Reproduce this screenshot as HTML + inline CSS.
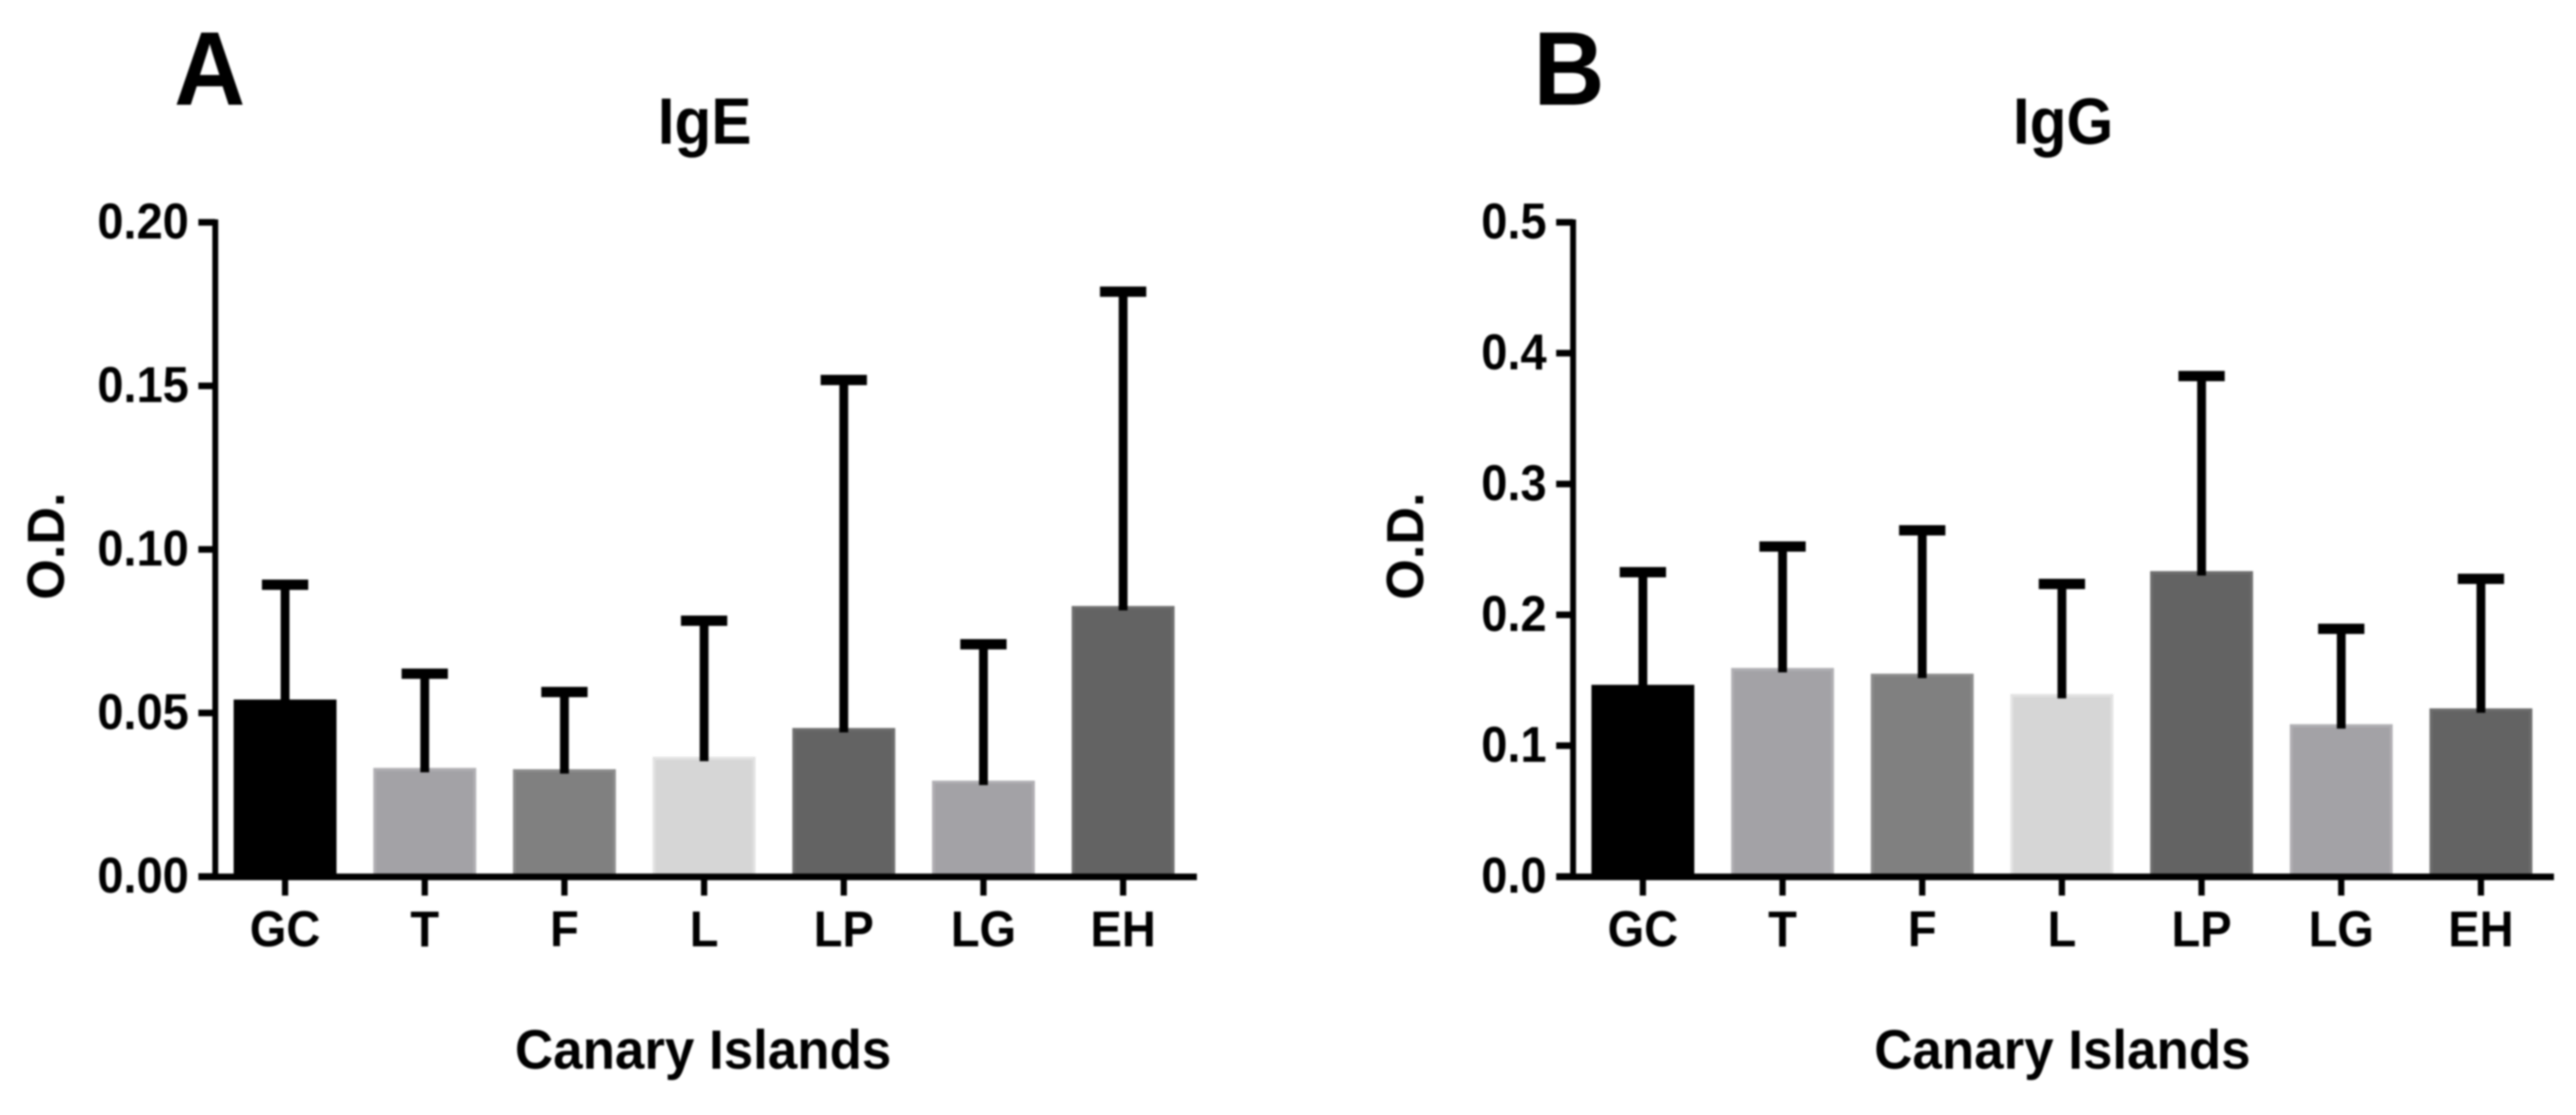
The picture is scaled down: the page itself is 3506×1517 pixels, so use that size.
<!DOCTYPE html>
<html lang="en">
<head>
<meta charset="utf-8">
<title>IgE and IgG O.D. by Canary Island</title>
<style>
html,body{margin:0;padding:0;background:#fff;}
body{width:3506px;height:1517px;overflow:hidden;}
svg{display:block;filter:blur(1.2px);}
text{font-family:"Liberation Sans",Arial,sans-serif;font-weight:700;fill:#000;}
</style>
</head>
<body>
<svg id="figure" xmlns="http://www.w3.org/2000/svg" width="3506" height="1517" viewBox="0 0 3506 1517"></svg>
<script>
const categories = ["GC", "T", "F", "L", "LP", "LG", "EH"];
const igeMeans = [0.0541, 0.0332, 0.0328, 0.0366, 0.0454, 0.0293, 0.0827];
const igeUpper = [0.0892, 0.0620, 0.0564, 0.0782, 0.1518, 0.0710, 0.1788];
const igeTicks = ["0.00", "0.05", "0.10", "0.15", "0.20"];
const iggMeans = [0.1465, 0.1594, 0.1550, 0.1395, 0.2334, 0.1164, 0.1285];
const iggUpper = [0.2326, 0.2522, 0.2646, 0.2236, 0.3825, 0.1893, 0.2275];
const iggTicks = ["0.0", "0.1", "0.2", "0.3", "0.4", "0.5"];
const barFills = ["#000000", "#a3a2a6", "#808080", "#d6d6d6", "#636363", "#a3a2a6", "#636363"];
const barEdges = ["#000000", "#b0afb3", "#8c8c8c", "#e2e2e2", "#6e6e6e", "#b0afb3", "#6e6e6e"];

const svg = document.getElementById("figure");
const NS = "http://www.w3.org/2000/svg";

function make(tag, attrs, parent) {
  const el = document.createElementNS(NS, tag);
  for (const k in attrs) el.setAttribute(k, attrs[k]);
  parent.appendChild(el);
  return el;
}

function stretched(x, y, k) {
  return "translate(" + x + " " + y + ") scale(1 " + k + ")";
}

function drawPanel(cfg) {
  const y0 = 1192.5, plotH = 890, bandStep = 190.1, barW = 136, capW = 63, capH = 14, stemW = 12;
  const yMax = parseFloat(cfg.ticks[cfg.ticks.length - 1]);
  const yScale = v => y0 - (v / yMax) * plotH;
  const xScale = i => cfg.firstX + i * bandStep;

  const g = make("g", {}, svg);
  
  

  const letter = make("text", {x: 0, y: 0, "font-size": 134, transform: stretched(cfg.letterX, 142.5, 1.065)}, g);
  letter.textContent = cfg.letter;
  
  

  const title = make("text", {x: 0, y: 0, "font-size": 82, "text-anchor": "middle", transform: stretched(cfg.titleX, 195.5, 1.09)}, g);
  title.textContent = cfg.title;
  
  

  const yTitle = make("text", {x: cfg.yTitleX, y: 743, "font-size": 71, "text-anchor": "middle",
    transform: "rotate(-90 " + cfg.yTitleX + " 743)"}, g);
  yTitle.textContent = "O.D.";
  
  

  const xTitle = make("text", {x: 0, y: 0, "font-size": 72, "text-anchor": "middle", transform: stretched(cfg.xTitleX, 1454, 1.05)}, g);
  xTitle.textContent = "Canary Islands";
  
  

  categories.forEach((cat, i) => {
    const cx = xScale(i);
    const top = yScale(cfg.means[i]);
    const bar = make("rect", {x: cx - barW / 2, y: top + 2, width: barW, height: y0 - top - 2,
      fill: barFills[i], stroke: barEdges[i], "stroke-width": 4}, g);
    
    

    const capY = yScale(cfg.upper[i]);
    const stem = make("rect", {x: cx - stemW / 2, y: capY, width: stemW, height: top + 6 - capY, fill: "#000"}, g);
    
    

    const cap = make("rect", {x: cx - capW / 2, y: capY - capH / 2, width: capW, height: capH, fill: "#000"}, g);
    
    

    const tick = make("rect", {x: cx - 4.25, y: y0, width: 8.5, height: 26, fill: "#000"}, g);
    
    

    const lab = make("text", {x: 0, y: 0, "font-size": 64, "text-anchor": "middle", transform: stretched(cx, 1287.5, 1.08)}, g);
    lab.textContent = cat;
    
    
  });

  const yAxis = make("rect", {x: cfg.axisX - 4, y: yScale(yMax) - 4, width: 8, height: plotH + 4, fill: "#000"}, g);
  
  

  const xAxis = make("rect", {x: cfg.axisX - 23, y: y0 - 4, width: cfg.axisEnd - cfg.axisX + 23, height: 9, fill: "#000"}, g);
  
  

  cfg.ticks.forEach(label => {
    const ty = yScale(parseFloat(label));
    const tick = make("rect", {x: cfg.axisX - 23, y: ty - 4.5, width: 23, height: 9, fill: "#000"}, g);
    
    

    const lab = make("text", {x: 0, y: 0, "font-size": 64, "text-anchor": "end", transform: stretched(cfg.axisX - 36, ty + 22, 1.08)}, g);
    lab.textContent = label;
    
    
  });
}

drawPanel({name: "ige", letter: "A", title: "IgE", means: igeMeans, upper: igeUpper, ticks: igeTicks,
  axisX: 293, axisEnd: 1629, firstX: 388, letterX: 237, titleX: 959, yTitleX: 87, xTitleX: 957});
drawPanel({name: "igg", letter: "B", title: "IgG", means: iggMeans, upper: iggUpper, ticks: iggTicks,
  axisX: 2141, axisEnd: 3476, firstX: 2236, letterX: 2087, titleX: 2808, yTitleX: 1937, xTitleX: 2807});
</script>
</body>
</html>
